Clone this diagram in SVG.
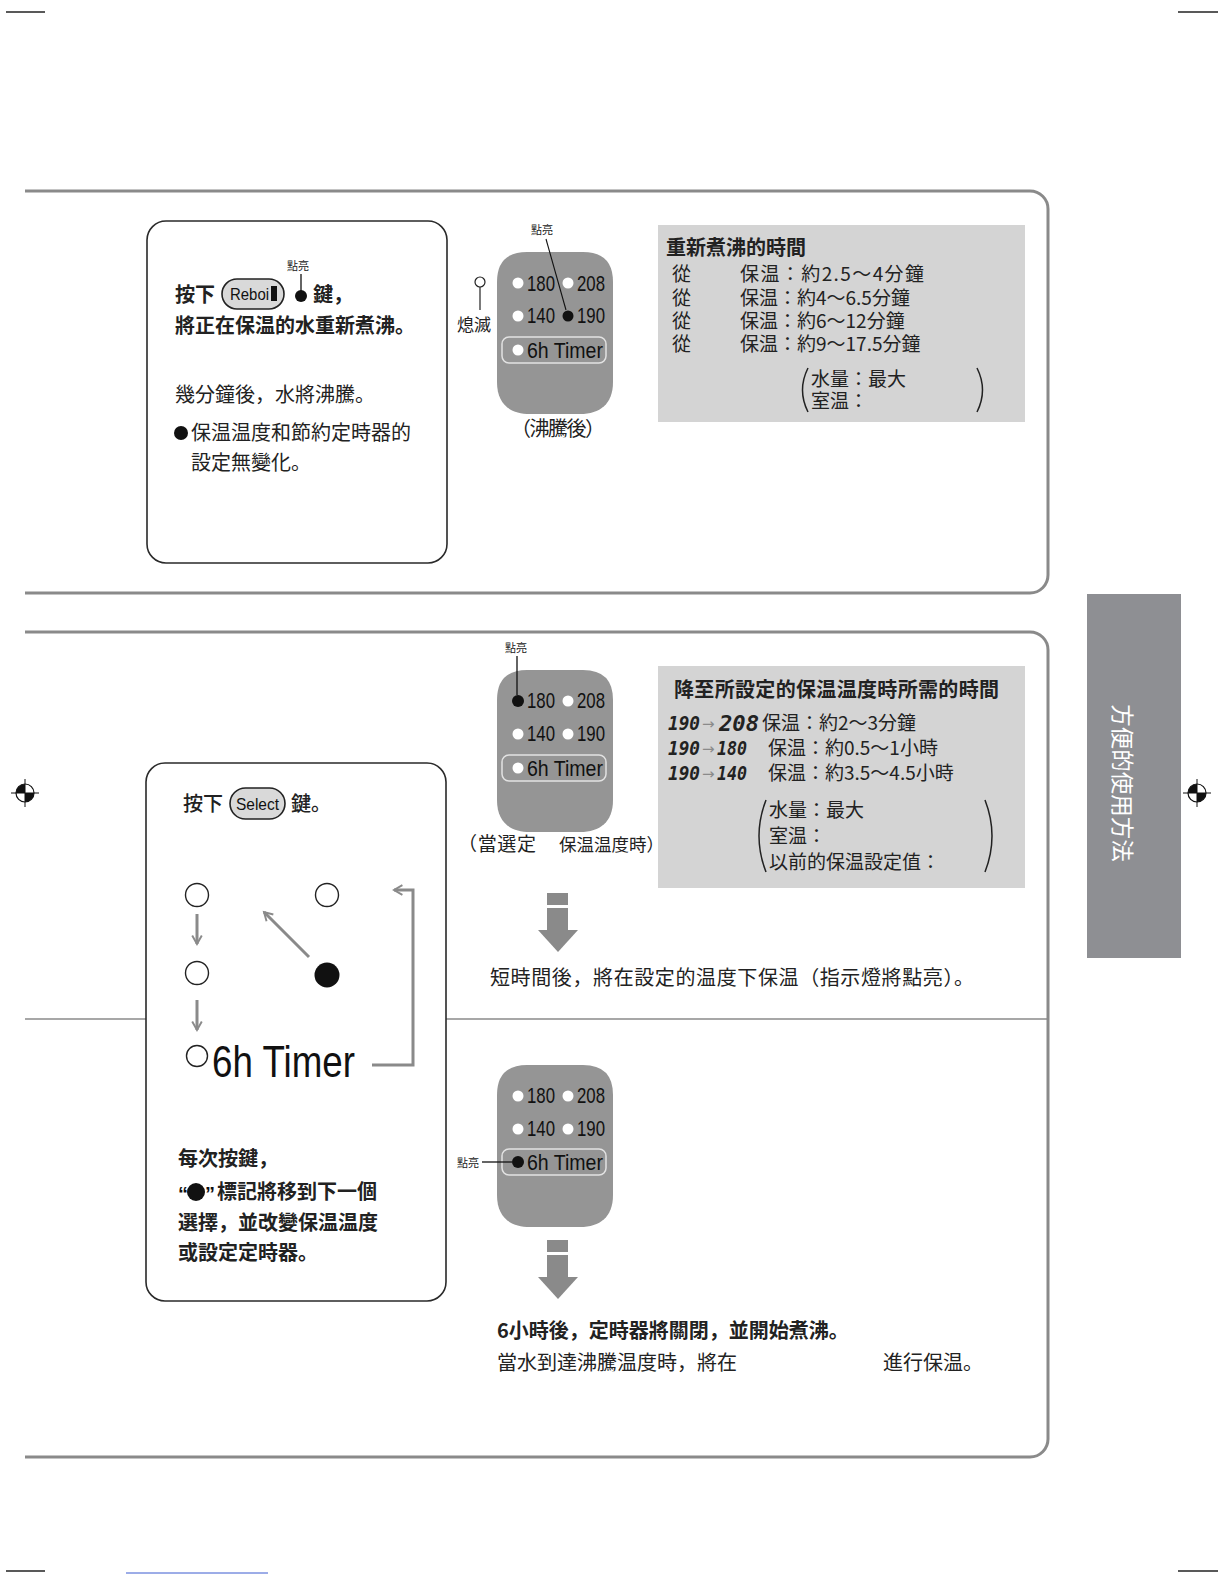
<svg xmlns="http://www.w3.org/2000/svg" width="1224" height="1584" viewBox="0 0 1224 1584">
<style>
.cjk{font-family:"Noto Sans CJK JP","Noto Sans CJK TC",sans-serif;fill:#222}
.b{font-weight:bold}
.t20{font-size:20px}
.t19{font-size:19px}
.lat{font-family:"Liberation Sans","Noto Sans",sans-serif;fill:#111}
.frame{fill:none;stroke:#8a8a8a;stroke-width:3}
.box{fill:#fff;stroke:#2a2a2a;stroke-width:1.6}
.panel{fill:#959595}
.wd{fill:#fff}
.bd{fill:#111}
.num{font-family:"Liberation Sans",sans-serif;font-size:22px;fill:#111}
.gray{fill:#d4d4d4}
.garrow{fill:#8a8a8a}
.gline{fill:none;stroke:#8a8a8a;stroke-width:3}
.seg{font-family:"DejaVu Sans Mono","Liberation Mono",monospace;font-weight:bold;font-style:italic;fill:#222}
.arr{font-family:"DejaVu Sans",sans-serif;font-size:15px;fill:#8a8a8a}
</style>
<defs>
<marker id="ah" viewBox="0 0 10 10" refX="8" refY="5" markerWidth="4" markerHeight="4" orient="auto-start-reverse" markerUnits="strokeWidth">
<path d="M1,1 L8,5 L1,9" fill="none" stroke="#8a8a8a" stroke-width="1.6"/>
</marker>
</defs>
<rect width="1224" height="1584" fill="#fff"/>

<!-- crop marks -->
<g id="cropmarks" stroke="#222" stroke-width="1.5">
<line x1="6" y1="12" x2="45" y2="12"/>
<line x1="1178" y1="12" x2="1218" y2="12"/>
<line x1="6" y1="1571" x2="45" y2="1571"/>
<line x1="1178" y1="1571" x2="1218" y2="1571"/>
<line x1="126" y1="1573" x2="268" y2="1573" stroke="#3a5bd0" stroke-width="1"/>
</g>
<g id="reg-left">
<circle cx="25" cy="793" r="9" fill="none" stroke="#111" stroke-width="1.2"/>
<path d="M25,793 V784 A9,9 0 0 0 16,793 Z M25,793 V802 A9,9 0 0 0 34,793 Z" fill="#111"/>
<line x1="11" y1="793" x2="39" y2="793" stroke="#111" stroke-width="1"/>
<line x1="25" y1="779" x2="25" y2="807" stroke="#111" stroke-width="1"/>
</g>
<g id="reg-right">
<circle cx="1197" cy="793" r="9" fill="none" stroke="#111" stroke-width="1.2"/>
<path d="M1197,793 V784 A9,9 0 0 0 1188,793 Z M1197,793 V802 A9,9 0 0 0 1206,793 Z" fill="#111"/>
<line x1="1183" y1="793" x2="1211" y2="793" stroke="#111" stroke-width="1"/>
<line x1="1197" y1="779" x2="1197" y2="807" stroke="#111" stroke-width="1"/>
</g>

<!-- section frames -->
<path id="frame-top" class="frame" d="M25,191 H1030 A18,18 0 0 1 1048,209 V575 A18,18 0 0 1 1030,593 H25"/>
<path id="frame-bottom" class="frame" d="M25,632 H1030 A18,18 0 0 1 1048,650 V1439 A18,18 0 0 1 1030,1457 H25"/>
<g id="divider" stroke="#8a8a8a" stroke-width="1.5">
<line x1="25" y1="1019" x2="146" y2="1019"/>
<line x1="446" y1="1019" x2="1048" y2="1019"/>
</g>

<!-- side tab -->
<g id="side-tab">
<rect x="1087" y="594" width="94" height="364" fill="#8e8f93"/>
<text transform="translate(1114,783) rotate(90)" text-anchor="middle" class="cjk" style="fill:#fff;font-size:22.5px">方便的使用方法</text>
</g>

<!-- box 1 : reboil -->
<g id="box-reboil">
<rect class="box" x="147" y="221" width="300" height="342" rx="19"/>
<text x="298" y="270" text-anchor="middle" class="cjk" style="font-size:11px">點亮</text>
<line x1="301" y1="274" x2="301" y2="292" stroke="#111" stroke-width="1.3"/>
<text x="175" y="302" class="cjk b t20">按下</text>
<rect x="222" y="279" width="62" height="30" rx="15" fill="#d9d9d9" stroke="#222" stroke-width="1.6"/>
<text x="230" y="300" class="lat" style="font-size:17px" textLength="39" lengthAdjust="spacingAndGlyphs">Reboi</text>
<rect x="271" y="286" width="6" height="15" fill="#111"/>
<circle cx="301" cy="296" r="6" fill="#111"/>
<text x="313" y="302" class="cjk b t20">鍵，</text>
<text x="175" y="333" class="cjk b t20">將正在保温的水重新煮沸。</text>
<text x="175" y="402" class="cjk t20">幾分鐘後，水將沸騰。</text>
<circle cx="181" cy="433" r="7" fill="#111"/>
<text x="191" y="440" class="cjk t20">保温温度和節約定時器的</text>
<text x="191" y="470" class="cjk t20">設定無變化。</text>
</g>

<!-- panel 1 (after boiling) -->
<g id="panel-1">
<path class="panel" d="M497,282 Q497,252 527,252 H583 Q613,252 613,282 V382 C613,404 600,414 580,414 H530 C510,414 497,404 497,382 Z"/>
<circle class="wd" cx="518" cy="283" r="5.5"/>
<text x="527" y="291" class="num" textLength="28" lengthAdjust="spacingAndGlyphs">180</text>
<circle class="wd" cx="568" cy="283" r="5.5"/>
<text x="577" y="291" class="num" textLength="28" lengthAdjust="spacingAndGlyphs">208</text>
<circle class="wd" cx="518" cy="316" r="5.5"/>
<text x="527" y="323" class="num" textLength="28" lengthAdjust="spacingAndGlyphs">140</text>
<circle class="bd" cx="568" cy="316" r="5.5"/>
<text x="577" y="323" class="num" textLength="28" lengthAdjust="spacingAndGlyphs">190</text>
<rect x="502" y="337" width="104" height="26" rx="7" fill="none" stroke="#e2e2e2" stroke-width="1.5"/>
<circle class="wd" cx="518" cy="350" r="5.5"/>
<text x="527" y="358" class="num" textLength="76" lengthAdjust="spacingAndGlyphs">6h Timer</text>
<text x="542" y="234" text-anchor="middle" class="cjk" style="font-size:11px">點亮</text>
<line x1="546" y1="239" x2="566" y2="310" stroke="#111" stroke-width="1.1"/>
<circle cx="480" cy="282" r="5" fill="#fff" stroke="#222" stroke-width="1.2"/>
<line x1="480" y1="287" x2="480" y2="310" stroke="#222" stroke-width="1.2"/>
<text x="474" y="331" text-anchor="middle" class="cjk" style="font-size:17px">熄滅</text>
<text x="558" y="436" text-anchor="middle" class="cjk t20" textLength="94" lengthAdjust="spacing">（沸騰後）</text>
</g>

<!-- reboil time table -->
<g id="table-reboil">
<rect class="gray" x="658" y="225" width="367" height="197"/>
<text x="666" y="255" class="cjk b t20">重新煮沸的時間</text>
<text x="672" y="281" class="cjk t19">從</text>
<text x="740" y="281" class="cjk t19" textLength="184" lengthAdjust="spacing">保温：約2.5～4分鐘</text>
<text x="672" y="305" class="cjk t19">從</text>
<text x="740" y="305" class="cjk t19">保温：約4～6.5分鐘</text>
<text x="672" y="328" class="cjk t19">從</text>
<text x="740" y="328" class="cjk t19">保温：約6～12分鐘</text>
<text x="672" y="351" class="cjk t19">從</text>
<text x="740" y="351" class="cjk t19">保温：約9～17.5分鐘</text>
<path d="M808,368 Q797,390 808,412" fill="none" stroke="#222" stroke-width="1.5"/>
<text x="811" y="386" class="cjk t19">水量：最大</text>
<text x="811" y="408" class="cjk t19">室温：</text>
<path d="M977,368 Q988,390 977,412" fill="none" stroke="#222" stroke-width="1.5"/>
</g>

<!-- panel 2 (select) -->
<g id="panel-2">
<path class="panel" d="M497,700 Q497,670 527,670 H583 Q613,670 613,700 V800 C613,822 600,832 580,832 H530 C510,832 497,822 497,800 Z"/>
<circle class="bd" cx="518" cy="701" r="6"/>
<text x="527" y="708" class="num" textLength="28" lengthAdjust="spacingAndGlyphs">180</text>
<circle class="wd" cx="568" cy="701" r="5.5"/>
<text x="577" y="708" class="num" textLength="28" lengthAdjust="spacingAndGlyphs">208</text>
<circle class="wd" cx="518" cy="734" r="5.5"/>
<text x="527" y="741" class="num" textLength="28" lengthAdjust="spacingAndGlyphs">140</text>
<circle class="wd" cx="568" cy="734" r="5.5"/>
<text x="577" y="741" class="num" textLength="28" lengthAdjust="spacingAndGlyphs">190</text>
<rect x="502" y="755" width="104" height="26" rx="7" fill="none" stroke="#e2e2e2" stroke-width="1.5"/>
<circle class="wd" cx="518" cy="768" r="5.5"/>
<text x="527" y="776" class="num" textLength="76" lengthAdjust="spacingAndGlyphs">6h Timer</text>
<text x="516" y="652" text-anchor="middle" class="cjk" style="font-size:11px">點亮</text>
<line x1="517" y1="656" x2="517" y2="695" stroke="#111" stroke-width="1.3"/>
<text x="458" y="851" class="cjk t19" textLength="78" lengthAdjust="spacing">（當選定</text>
<text x="559" y="851" class="cjk" style="font-size:17.5px">保温温度時）</text>
</g>

<!-- keep-warm time table -->
<g id="table-keepwarm">
<rect class="gray" x="658" y="666" width="367" height="222"/>
<text x="674" y="697" class="cjk b t20" textLength="325" lengthAdjust="spacing">降至所設定的保温温度時所需的時間</text>
<text x="668" y="730" class="seg" style="font-size:19px" textLength="32" lengthAdjust="spacingAndGlyphs">190</text>
<text x="702" y="729" class="arr">→</text>
<text x="719" y="731" class="seg" style="font-size:22px" textLength="40" lengthAdjust="spacingAndGlyphs">208</text>
<text x="762" y="730" class="cjk t19">保温：約2～3分鐘</text>
<text x="668" y="755" class="seg" style="font-size:19px" textLength="32" lengthAdjust="spacingAndGlyphs">190</text>
<text x="702" y="754" class="arr">→</text>
<text x="717" y="755" class="seg" style="font-size:19px" textLength="30" lengthAdjust="spacingAndGlyphs">180</text>
<text x="768" y="755" class="cjk t19">保温：約0.5～1小時</text>
<text x="668" y="780" class="seg" style="font-size:19px" textLength="32" lengthAdjust="spacingAndGlyphs">190</text>
<text x="702" y="779" class="arr">→</text>
<text x="717" y="780" class="seg" style="font-size:19px" textLength="30" lengthAdjust="spacingAndGlyphs">140</text>
<text x="768" y="780" class="cjk t19">保温：約3.5～4.5小時</text>
<path d="M766,800 Q752,836 766,872" fill="none" stroke="#222" stroke-width="1.5"/>
<text x="769" y="817" class="cjk t19">水量：最大</text>
<text x="769" y="843" class="cjk t19">室温：</text>
<text x="769" y="869" class="cjk t19">以前的保温設定值：</text>
<path d="M985,800 Q999,836 985,872" fill="none" stroke="#222" stroke-width="1.5"/>
</g>

<!-- big arrow 1 -->
<g id="arrow-1">
<rect class="garrow" x="547" y="893" width="21" height="12"/>
<rect class="garrow" x="547" y="908" width="21" height="22"/>
<path class="garrow" d="M538,930 H578 L558,952 Z"/>
</g>
<text id="result-1" x="490" y="985" class="cjk t20" textLength="484" lengthAdjust="spacing">短時間後，將在設定的温度下保温（指示燈將點亮）。</text>

<!-- box 2 : select -->
<g id="box-select">
<rect class="box" x="146" y="763" width="300" height="538" rx="19"/>
<text x="183" y="811" class="cjk t20" style="font-weight:500">按下</text>
<rect x="230" y="788" width="55" height="31" rx="15.5" fill="#d9d9d9" stroke="#222" stroke-width="1.6"/>
<text x="236" y="810" class="lat" style="font-size:17px" textLength="43" lengthAdjust="spacingAndGlyphs">Select</text>
<text x="291" y="811" class="cjk t20" style="font-weight:500">鍵。</text>
<circle cx="197" cy="895" r="11.5" fill="#fff" stroke="#222" stroke-width="1.4"/>
<circle cx="327" cy="895" r="11.5" fill="#fff" stroke="#222" stroke-width="1.4"/>
<circle cx="197" cy="973" r="11.5" fill="#fff" stroke="#222" stroke-width="1.4"/>
<circle cx="327" cy="975" r="12.5" fill="#111"/>
<circle cx="197" cy="1056" r="10.5" fill="#fff" stroke="#222" stroke-width="1.4"/>
<text x="212" y="1077" class="lat" style="font-size:44px" textLength="143" lengthAdjust="spacingAndGlyphs">6h Timer</text>
<text x="178" y="1166" class="cjk b t20">每次按鍵，</text>
<text x="178" y="1201" class="lat b" style="font-size:20px">“</text>
<circle cx="196" cy="1192" r="9" fill="#111"/>
<text x="205" y="1201" class="lat b" style="font-size:20px">”</text>
<text x="217" y="1199" class="cjk b t20">標記將移到下一個</text>
<text x="178" y="1230" class="cjk b t20">選擇，並改變保温温度</text>
<text x="178" y="1260" class="cjk b t20">或設定定時器。</text>
</g>

<!-- connectors -->
<g id="connectors">
<line class="gline" x1="197" y1="914" x2="197" y2="944" marker-end="url(#ah)"/>
<line class="gline" x1="197" y1="1000" x2="197" y2="1030" marker-end="url(#ah)"/>
<line class="gline" x1="309" y1="957" x2="264" y2="912" marker-end="url(#ah)"/>
<polyline class="gline" points="372,1065 413,1065 413,890 394,890" marker-end="url(#ah)"/>
</g>

<!-- panel 3 (timer) -->
<g id="panel-3">
<path class="panel" d="M497,1095 Q497,1065 527,1065 H583 Q613,1065 613,1095 V1195 C613,1217 600,1227 580,1227 H530 C510,1227 497,1217 497,1195 Z"/>
<circle class="wd" cx="518" cy="1096" r="5.5"/>
<text x="527" y="1103" class="num" textLength="28" lengthAdjust="spacingAndGlyphs">180</text>
<circle class="wd" cx="568" cy="1096" r="5.5"/>
<text x="577" y="1103" class="num" textLength="28" lengthAdjust="spacingAndGlyphs">208</text>
<circle class="wd" cx="518" cy="1129" r="5.5"/>
<text x="527" y="1136" class="num" textLength="28" lengthAdjust="spacingAndGlyphs">140</text>
<circle class="wd" cx="568" cy="1129" r="5.5"/>
<text x="577" y="1136" class="num" textLength="28" lengthAdjust="spacingAndGlyphs">190</text>
<rect x="502" y="1149" width="104" height="26" rx="7" fill="none" stroke="#e2e2e2" stroke-width="1.5"/>
<circle class="bd" cx="518" cy="1162" r="6"/>
<text x="527" y="1170" class="num" textLength="76" lengthAdjust="spacingAndGlyphs">6h Timer</text>
<text x="457" y="1167" class="cjk" style="font-size:11px">點亮</text>
<line x1="482" y1="1162" x2="512" y2="1162" stroke="#111" stroke-width="1.3"/>
</g>

<!-- big arrow 2 -->
<g id="arrow-2">
<rect class="garrow" x="547" y="1240" width="21" height="12"/>
<rect class="garrow" x="547" y="1255" width="21" height="22"/>
<path class="garrow" d="M538,1277 H578 L558,1299 Z"/>
</g>
<g id="result-2">
<text x="497" y="1338" class="cjk b t20">6小時後，定時器將關閉，並開始煮沸。</text>
<text x="497" y="1370" class="cjk t20">當水到達沸騰温度時，將在</text>
<text x="883" y="1370" class="cjk t20">進行保温。</text>
</g>
</svg>
